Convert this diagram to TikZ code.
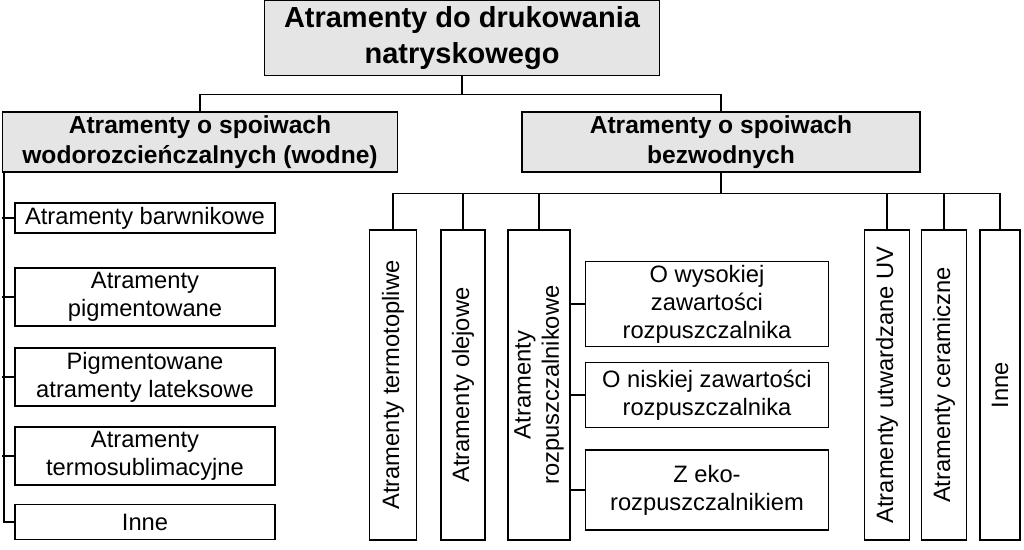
\documentclass[tikz,border=0pt]{standalone}
\usepackage{fontspec}
\setmainfont{Liberation Sans}
\begin{document}
\begin{tikzpicture}[x=0.02cm, y=-0.02cm]
\tikzset{box/.style={draw, thick, inner sep=2pt, align=center, font=\fontsize{13.5}{16}\selectfont},
 head/.style={box, fill=gray!20, font=\bfseries\fontsize{14}{17}\selectfont},
 vbox/.style={box, rotate=90, anchor=center}}
\useasboundingbox (0,0) rectangle (1024,549);
\node[head, minimum width=7.9cm, minimum height=1.5cm, font=\bfseries\fontsize{16.5}{20}\selectfont] (top) at (462,38) {Atramenty do drukowania\\natryskowego};
\node[head, minimum width=7.9cm, minimum height=1.2cm] (l) at (200,142) {Atramenty o spoiwach\\wodorozcieńczalnych (wodne)};
\node[head, minimum width=7.96cm, minimum height=1.2cm] (r) at (721,142) {Atramenty o spoiwach\\bezwodnych};

\node[box, minimum width=5.2cm, minimum height=0.6cm] (l1) at (145,218) {Atramenty barwnikowe};
\node[box, minimum width=5.2cm, minimum height=1.16cm] (l2) at (145,297) {Atramenty\\pigmentowane};
\node[box, minimum width=5.2cm, minimum height=1.16cm] (l3) at (145,377) {Pigmentowane\\atramenty lateksowe};
\node[box, minimum width=5.2cm, minimum height=1.16cm] (l4) at (145,456) {Atramenty\\termosublimacyjne};
\node[box, minimum width=5.2cm, minimum height=0.7cm] (l5) at (145,522) {Inne};

\node[vbox, minimum width=6.2cm, minimum height=0.94cm] (v1) at (393,385) {Atramenty termotopliwe};
\node[vbox, minimum width=6.2cm, minimum height=0.88cm] (v2) at (463,385) {Atramenty olejowe};
\node[vbox, minimum width=6.2cm, minimum height=1.24cm] (v3) at (539,385) {Atramenty\\rozpuszczalnikowe};
\node[vbox, minimum width=6.2cm, minimum height=0.9cm] (v4) at (887,385) {Atramenty utwardzane UV};
\node[vbox, minimum width=6.2cm, minimum height=0.9cm] (v5) at (944,385) {Atramenty ceramiczne};
\node[vbox, minimum width=6.2cm, minimum height=0.8cm] (v6) at (1000,385) {Inne};

\node[box, minimum width=4.86cm, minimum height=1.64cm] (s1) at (707,304) {O wysokiej\\zawartości\\rozpuszczalnika};
\node[box, minimum width=4.86cm, minimum height=1.3cm] (s2) at (707,395) {O niskiej zawartości\\rozpuszczalnika};
\node[box, minimum width=4.86cm, minimum height=1.6cm] (s3) at (707,490) {Z eko-\\rozpuszczalnikiem};

\draw[thick] (top.south) -- ++(0,18) -| (l.north);
\draw[thick] (top.south) -- ++(0,18) -| (r.north);
\draw[thick] (l.south west) ++(2,0) |- (l5.west);
\foreach \n in {l1,l2,l3,l4}
  \draw[thick] (2,0 |- \n.west) -- (\n.west);
\foreach \n in {v1,v2,v3,v4,v5,v6}
  \draw[thick] (r.south) -- ++(0,21) -| (\n.east);
\foreach \n in {s1,s2,s3}
  \draw[thick] (v3.south |- \n.west) -- (\n.west);
\end{tikzpicture}
\end{document}
